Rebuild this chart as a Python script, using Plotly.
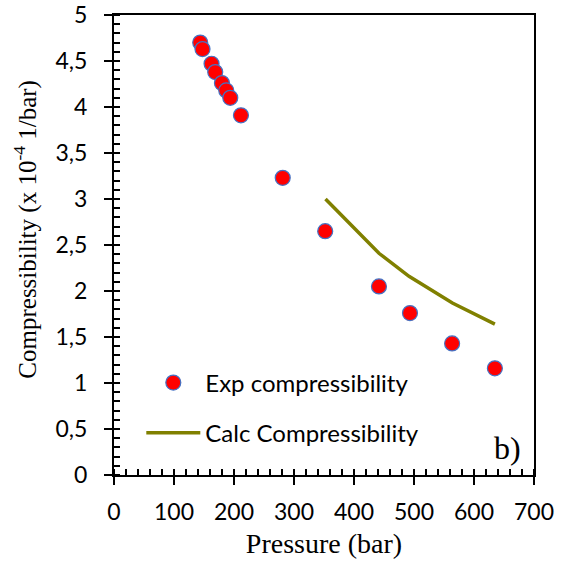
import plotly.graph_objects as go

exp_pressure = [143.7, 147.5, 162.6, 168.7, 179.9, 187.1, 193.8, 211.6,
                281.2, 352.0, 441.6, 493.3, 563.5, 634.8]
exp_compress = [4.70, 4.63, 4.47, 4.38, 4.26, 4.18, 4.10, 3.91,
                3.23, 2.65, 2.05, 1.76, 1.43, 1.16]
calc_pressure = [352.5, 441.6, 491.7, 564.0, 634.8]
calc_compress = [3.00, 2.41, 2.16, 1.87, 1.64]

sans = "Lato"
serif = "Liberation Serif"

fig = go.Figure()
fig.add_trace(go.Scatter(
    x=exp_pressure, y=exp_compress, mode="markers", name="Exp compressibility",
    marker=dict(size=15, color="#FF0000", line=dict(color="#4472C4", width=1.2)),
    legend="legend"))
fig.add_trace(go.Scatter(
    x=calc_pressure, y=calc_compress, mode="lines", name="Calc Compressibility",
    line=dict(color="#808000", width=3.5), legend="legend2"))

axis_common = dict(showline=True, linecolor="black", linewidth=2, mirror=True,
                   showgrid=False, zeroline=False, ticks="outside", ticklen=8,
                   tickwidth=1.5, tickcolor="black", automargin=False,
                   ticklabeloverflow="allow",
                   tickfont=dict(family=sans, size=23, color="black"))

fig.update_layout(
    width=566, height=574, margin=dict(l=114, r=32, t=15, b=99),
    plot_bgcolor="white", paper_bgcolor="white", separators=",.",
    showlegend=True,
    xaxis=dict(range=[0, 700], dtick=100, ticklabelstandoff=7, **axis_common,
               minor=dict(ticks="inside", dtick=20, ticklen=6, tickwidth=1.5, tickcolor="black"),
               title=dict(text="Pressure (bar)", font=dict(family=serif, size=28, color="black"),
                          standoff=10)),
    yaxis=dict(range=[0, 5], dtick=0.5, ticklabelstandoff=12, **axis_common,
               minor=dict(ticks="inside", dtick=0.1, ticklen=6, tickwidth=1.5, tickcolor="black"),
               title=dict(text="&nbsp;&nbsp;&nbsp;&nbsp;&nbsp;Compressibility (x 10<sup>-4</sup> 1/bar)",
                          font=dict(family=serif, size=25, color="black"), standoff=12)),
    xaxis2=dict(range=[0, 700], dtick=100, overlaying="x", showticklabels=False,
                showgrid=False, zeroline=False, ticks="inside", ticklen=6, tickwidth=1.5,
                tickcolor="black", side="bottom", anchor="y", automargin=False),
    yaxis2=dict(range=[0, 5], dtick=0.5, overlaying="y", showticklabels=False,
                showgrid=False, zeroline=False, ticks="inside", ticklen=6, tickwidth=1.5,
                tickcolor="black", side="left", anchor="x", automargin=False),
    legend=dict(x=0.065, y=0.20, xanchor="left", yanchor="middle", bgcolor="rgba(0,0,0,0)",
                itemwidth=54, font=dict(family=sans, size=24, color="black")),
    legend2=dict(x=0.065, y=0.091, xanchor="left", yanchor="middle", bgcolor="rgba(0,0,0,0)",
                 itemwidth=54, font=dict(family=sans, size=24, color="black")),
    annotations=[dict(text="b)", x=0.936, y=0.059, xref="paper", yref="paper",
                      showarrow=False, xanchor="center", yanchor="middle",
                      font=dict(family=serif, size=32, color="black"))],
)
# invisible trace that activates the overlay axes (inner half of the crossing major ticks)
fig.add_trace(go.Scatter(x=[0], y=[0], xaxis="x2", yaxis="y2", mode="markers",
                         marker=dict(opacity=0), showlegend=False, hoverinfo="skip"))

fig.write_html("out.html", config={"displayModeBar": False},
               post_script="document.body.style.margin = '0px';")
